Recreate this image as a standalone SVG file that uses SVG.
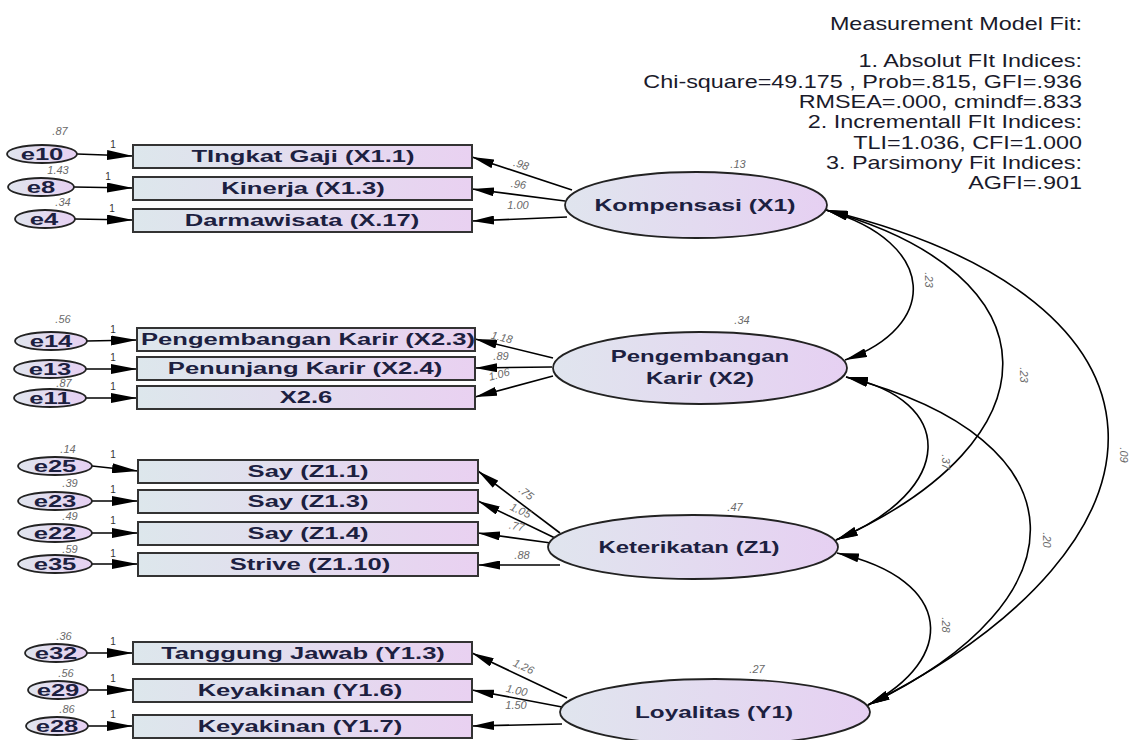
<svg xmlns="http://www.w3.org/2000/svg" width="1134" height="740" viewBox="0 0 1134 740">
<defs>
<linearGradient id="gb" x1="0" y1="0" x2="1" y2="0">
<stop offset="0" stop-color="#dde7ec"/>
<stop offset="1" stop-color="#e9d1f1"/>
</linearGradient>
<linearGradient id="ge" x1="0" y1="0" x2="1" y2="0">
<stop offset="0" stop-color="#e0e5ee"/>
<stop offset="1" stop-color="#e6d0f2"/>
</linearGradient>
<marker id="ah" viewBox="0 0 22 9" refX="22" refY="4.5" markerWidth="22" markerHeight="9" markerUnits="userSpaceOnUse" orient="auto-start-reverse">
<path d="M0,0 L22,4.5 L0,9 z" fill="#000"/>
</marker>
<marker id="ahe" viewBox="0 0 26 10" refX="26" refY="5" markerWidth="26" markerHeight="10" markerUnits="userSpaceOnUse" orient="auto">
<path d="M0,0 L26,5 L0,10 z" fill="#000"/>
</marker>
</defs>
<style>
.box{fill:url(#gb);stroke:#333;stroke-width:2}
.lat{fill:url(#ge);stroke:#222;stroke-width:1.8}
.err{fill:url(#ge);stroke:#222;stroke-width:1.8}
.bt{font-family:"Liberation Sans",Arial,sans-serif;font-size:16px;font-weight:bold;fill:#1c2040;text-anchor:middle}
.lt{font-family:"Liberation Sans",Arial,sans-serif;font-size:16px;font-weight:bold;fill:#1c2040;text-anchor:middle}
.et{font-family:"Liberation Sans",Arial,sans-serif;font-size:16px;font-weight:bold;fill:#1c2040;text-anchor:middle}
.sm{font-family:"Liberation Sans",Arial,sans-serif;font-size:11px;font-style:italic;fill:#6a6a6a;text-anchor:middle}
.one{font-family:"Liberation Sans",Arial,sans-serif;font-size:10px;fill:#333;text-anchor:middle}
.fit{font-family:"Liberation Sans",Arial,sans-serif;font-size:18px;fill:#1a1a2a;text-anchor:end}
.cv{fill:none;stroke:#000;stroke-width:1.6;marker-start:url(#ah);marker-end:url(#ah)}
.ld{fill:none;stroke:#000;stroke-width:1.6;marker-end:url(#ah)}
.el{fill:none;stroke:#000;stroke-width:1.6;marker-end:url(#ahe)}
</style>
<rect width="1134" height="740" fill="#fff"/>

<g id="fit-text" transform="translate(1082,0) scale(1.3,1)">
<text class="fit" x="0" y="30">Measurement Model Fit:</text>
<text class="fit" x="0" y="67">1. Absolut FIt Indices:</text>
<text class="fit" x="0" y="88">Chi-square=49.175 , Prob=.815, GFI=.936</text>
<text class="fit" x="0" y="108">RMSEA=.000, cmindf=.833</text>
<text class="fit" x="0" y="128">2. Incrementall FIt Indices:</text>
<text class="fit" x="0" y="149">TLI=1.036, CFI=1.000</text>
<text class="fit" x="0" y="169">3. Parsimony Fit Indices:</text>
<text class="fit" x="0" y="189">AGFI=.901</text>
</g>

<g id="connectors">
<line class="el" x1="77" y1="154" x2="133" y2="156"/>
<line class="el" x1="74" y1="187" x2="133" y2="188"/>
<line class="el" x1="75" y1="219" x2="133" y2="220"/>
<line class="el" x1="87" y1="341" x2="137" y2="340"/>
<line class="el" x1="86" y1="369" x2="137" y2="369"/>
<line class="el" x1="86" y1="398" x2="137" y2="398"/>
<line class="el" x1="92" y1="466" x2="138" y2="471"/>
<line class="el" x1="92" y1="501" x2="138" y2="501"/>
<line class="el" x1="92" y1="533" x2="138" y2="533"/>
<line class="el" x1="92" y1="564" x2="138" y2="564"/>
<line class="el" x1="87" y1="653" x2="133" y2="653"/>
<line class="el" x1="88" y1="690" x2="133" y2="690"/>
<line class="el" x1="88" y1="726" x2="133" y2="726"/>
<line class="ld" x1="572" y1="190" x2="472" y2="157"/>
<line class="ld" x1="565" y1="201" x2="472" y2="189"/>
<line class="ld" x1="567" y1="217" x2="472" y2="221"/>
<line class="ld" x1="553" y1="358" x2="475" y2="339"/>
<line class="ld" x1="552" y1="367" x2="475" y2="368"/>
<line class="ld" x1="553" y1="376" x2="475" y2="397"/>
<line class="ld" x1="560" y1="533" x2="478" y2="471"/>
<line class="ld" x1="555" y1="538" x2="478" y2="501"/>
<line class="ld" x1="551" y1="543" x2="478" y2="533"/>
<line class="ld" x1="560" y1="565" x2="478" y2="565"/>
<line class="ld" x1="567" y1="698" x2="472" y2="653"/>
<line class="ld" x1="562" y1="707" x2="472" y2="690"/>
<line class="ld" x1="562" y1="724" x2="472" y2="726"/>
<path class="cv" d="M826,210 C939,243 939,327 845,360"/>
<path class="cv" d="M826,210 C1060,275 1060,440 836,540"/>
<path class="cv" d="M826,210 C1195,300 1195,540 868,705"/>
<path class="cv" d="M846,377 C957,400 957,490 836,540"/>
<path class="cv" d="M846,377 C1088,440 1088,600 868,705"/>
<path class="cv" d="M837,553 C956,580 956,660 868,705"/>
<text class="sm" transform="translate(520,168) rotate(18)">.98</text>
<text class="sm" transform="translate(518,188) rotate(7)">.96</text>
<text class="sm" transform="translate(518,209)">1.00</text>
<text class="sm" transform="translate(501,341) rotate(14)">1.18</text>
<text class="sm" transform="translate(501,360)">.89</text>
<text class="sm" transform="translate(500,378) rotate(-15)">1.06</text>
<text class="sm" transform="translate(524,496) rotate(37)">.75</text>
<text class="sm" transform="translate(519,514) rotate(25)">1.05</text>
<text class="sm" transform="translate(516,530) rotate(12)">.77</text>
<text class="sm" transform="translate(522,559)">.88</text>
<text class="sm" transform="translate(522,670) rotate(25)">1.26</text>
<text class="sm" transform="translate(516,694) rotate(12)">1.00</text>
<text class="sm" transform="translate(516,709)">1.50</text>
<text class="sm" transform="translate(925,280) rotate(90)">.23</text>
<text class="sm" transform="translate(1020,375) rotate(90)">.23</text>
<text class="sm" transform="translate(1120,455) rotate(90)">.09</text>
<text class="sm" transform="translate(942,462) rotate(90)">.37</text>
<text class="sm" transform="translate(1043,540) rotate(90)">.20</text>
<text class="sm" transform="translate(942,625) rotate(90)">.28</text>
</g>

<g id="X1">
<ellipse class="lat" cx="696" cy="205" rx="131" ry="33"/>
<text class="lt" transform="translate(695,211) scale(1.55,1)">Kompensasi (X1)</text>
<text class="sm" x="738" y="168">.13</text>
</g>
<g id="X2">
<ellipse class="lat" cx="700" cy="368" rx="147" ry="36"/>
<text class="lt" transform="translate(700,362) scale(1.5,1)">Pengembangan</text>
<text class="lt" transform="translate(700,384) scale(1.5,1)">Karir (X2)</text>
<text class="sm" x="742" y="324">.34</text>
</g>
<g id="Z1">
<ellipse class="lat" cx="693" cy="547" rx="145" ry="32"/>
<text class="lt" transform="translate(689,553) scale(1.5,1)">Keterikatan (Z1)</text>
<text class="sm" x="735" y="511">.47</text>
</g>
<g id="Y1">
<ellipse class="lat" cx="715" cy="712" rx="155" ry="33"/>
<text class="lt" transform="translate(714,718) scale(1.52,1)">Loyalitas (Y1)</text>
<text class="sm" x="757" y="673">.27</text>
</g>

<g id="X1.1"><rect class="box" x="133" y="145" width="339" height="23"/><text class="bt" transform="translate(303,162) scale(1.6,1)">TIngkat Gaji (X1.1)</text></g>
<g id="X1.3"><rect class="box" x="133" y="177" width="339" height="23"/><text class="bt" transform="translate(303,194) scale(1.6,1)">Kinerja (X1.3)</text></g>
<g id="X.17"><rect class="box" x="133" y="209" width="339" height="23"/><text class="bt" transform="translate(302,226) scale(1.6,1)">Darmawisata (X.17)</text></g>
<g id="X2.3"><rect class="box" x="137" y="328" width="338" height="23"/><text class="bt" transform="translate(308,345) scale(1.6,1)">Pengembangan Karir (X2.3)</text></g>
<g id="X2.4"><rect class="box" x="137" y="357" width="338" height="23"/><text class="bt" transform="translate(305,374) scale(1.6,1)">Penunjang Karir (X2.4)</text></g>
<g id="X2.6"><rect class="box" x="137" y="386" width="338" height="23"/><text class="bt" transform="translate(306,403) scale(1.6,1)">X2.6</text></g>
<g id="Z1.1"><rect class="box" x="138" y="460" width="340" height="23"/><text class="bt" transform="translate(308,477) scale(1.6,1)">Say (Z1.1)</text></g>
<g id="Z1.3"><rect class="box" x="138" y="490" width="340" height="23"/><text class="bt" transform="translate(308,507) scale(1.6,1)">Say (Z1.3)</text></g>
<g id="Z1.4"><rect class="box" x="138" y="522" width="340" height="23"/><text class="bt" transform="translate(308,539) scale(1.6,1)">Say (Z1.4)</text></g>
<g id="Z1.10"><rect class="box" x="138" y="553" width="340" height="23"/><text class="bt" transform="translate(310,570) scale(1.6,1)">Strive (Z1.10)</text></g>
<g id="Y1.3"><rect class="box" x="133" y="642" width="339" height="22"/><text class="bt" transform="translate(303,659) scale(1.6,1)">Tanggung Jawab (Y1.3)</text></g>
<g id="Y1.6"><rect class="box" x="133" y="679" width="339" height="23"/><text class="bt" transform="translate(300,696) scale(1.6,1)">Keyakinan (Y1.6)</text></g>
<g id="Y1.7"><rect class="box" x="133" y="715" width="339" height="23"/><text class="bt" transform="translate(300,732) scale(1.6,1)">Keyakinan (Y1.7)</text></g>

<g id="e10"><ellipse class="err" cx="42" cy="154" rx="35" ry="9"/><text class="et" transform="translate(42,160) scale(1.6,1)">e10</text><text class="sm" x="60" y="135">.87</text><text class="one" x="113" y="148">1</text></g>
<g id="e8"><ellipse class="err" cx="41" cy="187" rx="33" ry="9"/><text class="et" transform="translate(41,193) scale(1.6,1)">e8</text><text class="sm" x="58" y="174">1.43</text><text class="one" x="108" y="180">1</text></g>
<g id="e4"><ellipse class="err" cx="45" cy="219" rx="30" ry="9"/><text class="et" transform="translate(44,225) scale(1.6,1)">e4</text><text class="sm" x="63" y="206">.34</text><text class="one" x="112" y="212">1</text></g>
<g id="e14"><ellipse class="err" cx="51" cy="341" rx="36" ry="9"/><text class="et" transform="translate(51,347) scale(1.6,1)">e14</text><text class="sm" x="63" y="323">.56</text><text class="one" x="113" y="333">1</text></g>
<g id="e13"><ellipse class="err" cx="50" cy="369" rx="36" ry="9"/><text class="et" transform="translate(50,375) scale(1.6,1)">e13</text><text class="one" x="113" y="361">1</text></g>
<g id="e11"><ellipse class="err" cx="50" cy="398" rx="36" ry="9"/><text class="et" transform="translate(50,404) scale(1.6,1)">e11</text><text class="sm" x="64" y="387">.87</text><text class="one" x="113" y="390">1</text></g>
<g id="e25"><ellipse class="err" cx="55" cy="466" rx="37" ry="9"/><text class="et" transform="translate(55,472) scale(1.6,1)">e25</text><text class="sm" x="68" y="453">.14</text><text class="one" x="113" y="458">1</text></g>
<g id="e23"><ellipse class="err" cx="55" cy="501" rx="37" ry="9"/><text class="et" transform="translate(55,507) scale(1.6,1)">e23</text><text class="sm" x="70" y="487">.39</text><text class="one" x="113" y="493">1</text></g>
<g id="e22"><ellipse class="err" cx="55" cy="533" rx="37" ry="9"/><text class="et" transform="translate(55,539) scale(1.6,1)">e22</text><text class="sm" x="70" y="520">.49</text><text class="one" x="113" y="524">1</text></g>
<g id="e35"><ellipse class="err" cx="55" cy="564" rx="37" ry="9"/><text class="et" transform="translate(55,570) scale(1.6,1)">e35</text><text class="sm" x="70" y="553">.59</text><text class="one" x="113" y="557">1</text></g>
<g id="e32"><ellipse class="err" cx="56" cy="653" rx="31" ry="9"/><text class="et" transform="translate(56,659) scale(1.6,1)">e32</text><text class="sm" x="64" y="640">.36</text><text class="one" x="113" y="645">1</text></g>
<g id="e29"><ellipse class="err" cx="58" cy="690" rx="30" ry="9"/><text class="et" transform="translate(58,696) scale(1.6,1)">e29</text><text class="sm" x="66" y="677">.56</text><text class="one" x="113" y="682">1</text></g>
<g id="e28"><ellipse class="err" cx="57" cy="726" rx="31" ry="9"/><text class="et" transform="translate(57,732) scale(1.6,1)">e28</text><text class="sm" x="67" y="713">.86</text><text class="one" x="113" y="718">1</text></g>
</svg>
